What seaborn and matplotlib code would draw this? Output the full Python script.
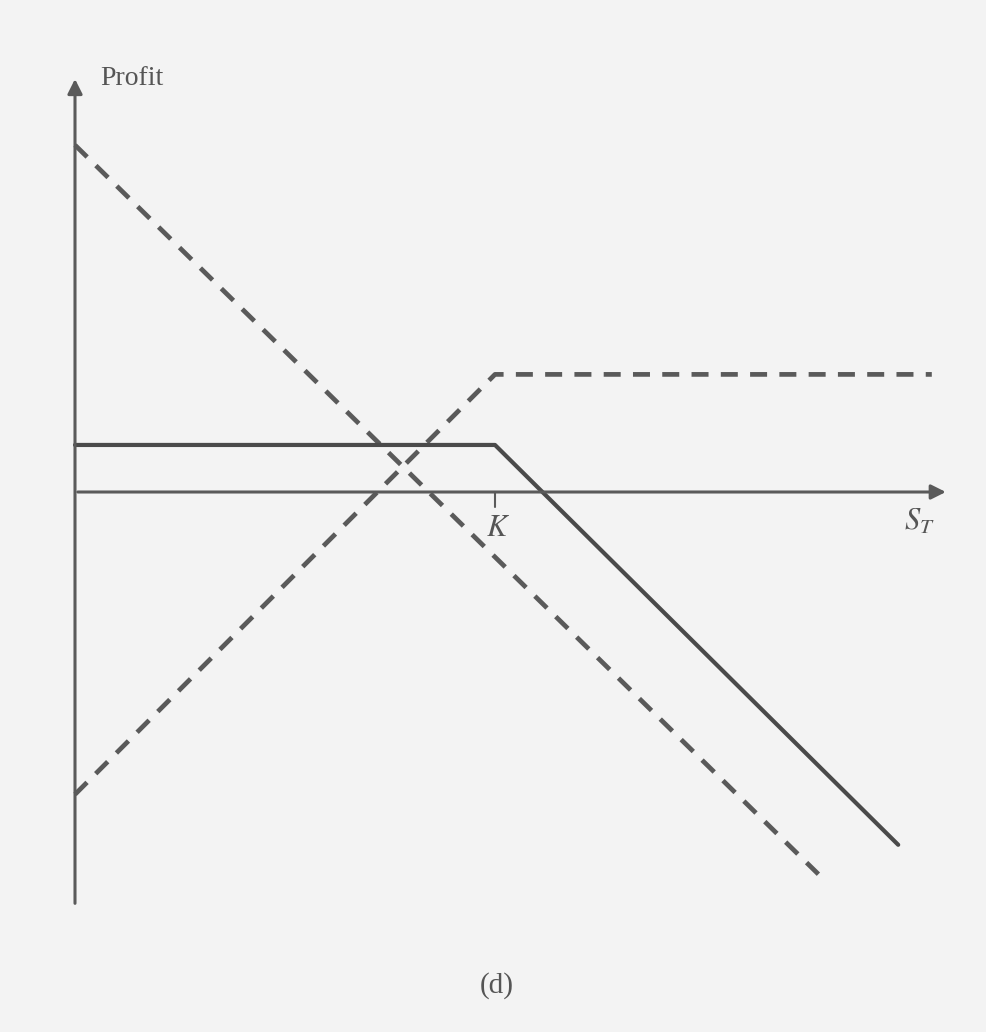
import matplotlib
matplotlib.use("Agg")
import matplotlib.pyplot as plt
import pandas as pd
import seaborn as sns

# profit diagrams (K = 50)
strike = 50
stock_s = [0, 88.5]
stock_profit = [41.3, -45.5]
option_s = [0, 50, 102]
option_profit = [-36.0, 14.0, 14.0]
total_s = [0, 50, 98]
total_profit = [5.6, 5.6, -42.0]

sns.set_theme(style="white")
plt.rcParams["font.family"] = ["Liberation Serif", "DejaVu Serif"]
plt.rcParams["mathtext.fontset"] = "stix"

ink = "#5a5a5a"
fig = plt.figure(figsize=(9.87, 10.32), dpi=100, facecolor="#f3f3f3")
ax = fig.add_axes([0, 0, 1, 1])
ax.set_facecolor("#f3f3f3")

sns.lineplot(x=stock_s, y=stock_profit, ax=ax, color=ink, lw=3.4, sort=False)
ax.lines[-1].set_dashes([3.6, 2.6])
sns.lineplot(x=option_s, y=option_profit, ax=ax, color=ink, lw=3.4, sort=False)
ax.lines[-1].set_dashes([3.6, 2.6])
sns.lineplot(x=total_s, y=total_profit, ax=ax, color="#4a4a4a", lw=3.0, sort=False)

# axes with arrows
ax.annotate("", xy=(104, 0), xytext=(0, 0),
            arrowprops=dict(arrowstyle="-|>", color=ink, lw=2.2, mutation_scale=22))
ax.annotate("", xy=(0, 49.5), xytext=(0, -49.3),
            arrowprops=dict(arrowstyle="-|>", color=ink, lw=2.2, mutation_scale=22))
ax.plot([strike, strike], [0, -1.8], color=ink, lw=1.5)

ax.text(3, 49.2, "Profit", fontsize=20, color="#555555", va="center", ha="left")
ax.text(50.3, -4.3, "$K$", fontsize=22, color="#555555", va="center", ha="center")
ax.text(100.5, -3.6, "$S_T$", fontsize=22, color="#555555", va="center", ha="center")
ax.text(50.2, -58.7, "(d)", fontsize=21, color="#555555", va="center", ha="center")

ax.set_xlim(-75 / 8.4, (987 - 75) / 8.4)
ax.set_ylim(-(1032 - 492) / 8.4, 492 / 8.4)
ax.axis("off")

fig.savefig("out.png", dpi=100, facecolor=fig.get_facecolor())
